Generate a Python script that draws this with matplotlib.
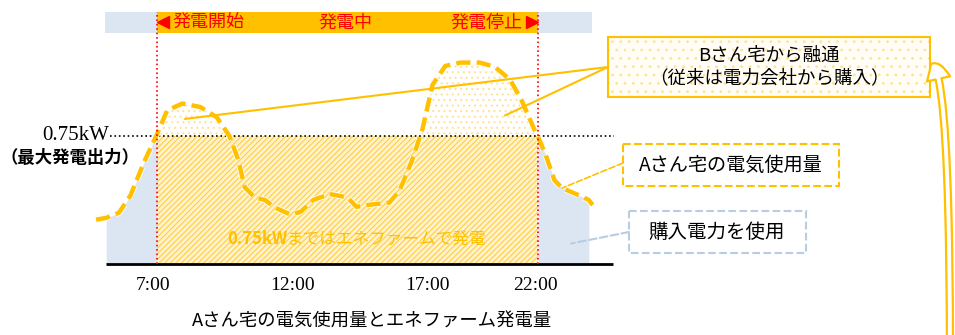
import numpy as np
import matplotlib.pyplot as plt
from matplotlib.patches import Rectangle
from matplotlib import patheffects as pe

plt.rcParams['font.family'] = ['Noto Sans CJK JP', 'DejaVu Sans']
plt.rcParams['hatch.linewidth'] = 0.8

# A-san household electricity usage (kW)
hours = np.array([4.6, 5.0, 5.5, 5.95, 6.5, 7.0, 7.4, 8.0, 8.7, 9.35, 9.85, 10.2, 10.45,
                  10.85, 11.25, 11.65, 12.25, 12.65, 13.15, 13.8, 14.5, 14.85, 15.25,
                  16.15, 16.55, 17.05, 17.45, 17.85, 18.35, 18.95, 19.7, 20.3, 20.9,
                  21.35, 21.85, 22.0, 22.3, 22.65, 22.95, 23.65, 24.0, 24.15])
usage = np.array([0.26, 0.27, 0.30, 0.40, 0.60, 0.76, 0.90, 0.94, 0.92, 0.86, 0.75, 0.61, 0.45,
                  0.39, 0.375, 0.33, 0.29, 0.305, 0.375, 0.41, 0.39, 0.335, 0.345,
                  0.36, 0.43, 0.61, 0.79, 1.05, 1.16, 1.18, 1.18, 1.155, 1.08,
                  0.96, 0.79, 0.745, 0.64, 0.49, 0.445, 0.40, 0.375, 0.345])

max_output = 0.75
gen_start, gen_end = 7, 22
buy_start, buy_end = 5.0, 24.0
tick_pos = [6.85, 12.35, 17.65, 21.9]
tick_labels = ['7:00', '12:00', '17:00', '22:00']

ORANGE = '#ffc000'
BLUE = '#dce6f2'
RED = '#ff0000'

fig = plt.figure(figsize=(9.55, 3.35), dpi=100)
ax = fig.add_axes([90 / 955, 71 / 335, 530 / 955, 264 / 335])
ax.set_xlim(7 + (90 - 157) / 25.4, 7 + (620 - 157) / 25.4)
ax.set_ylim(0, 264 / 170.7)
for s in ax.spines.values():
    s.set_visible(False)
ax.set_yticks([])
ax.set_xticks(tick_pos, tick_labels, family='Liberation Serif', fontsize=14)
ax.tick_params(axis='x', length=0, pad=9)

# purchased power (before/after generation)
left = (hours >= buy_start) & (hours <= gen_start)
right = (hours >= gen_end) & (hours <= buy_end)
ax.fill_between(hours[left], 0, usage[left], color=BLUE, lw=0)
ax.fill_between(hours[right], 0, usage[right], color=BLUE, lw=0)

# ENE-FARM generation up to 0.75kW
ax.fill_between([gen_start, gen_end], 0, max_output, facecolor='#fff2cc',
                edgecolor='#ffcf40', hatch='//////', lw=0)

# surplus from B-san above max output
on = (hours >= gen_start) & (hours <= gen_end)
ax.fill_between(hours, max_output, usage, where=on & (usage > max_output), interpolate=True,
                facecolor='white', edgecolor='#ffe39a', hatch='...', lw=0)

ax.hlines(0, 5.0, 24.95, color='black', lw=2, clip_on=False)
ax.hlines(max_output, 5.15, 24.98, color='black', lw=1.2, linestyles=':')

ax.plot(hours, usage, color=ORANGE, lw=3.2, dashes=(3.2, 1.4), solid_capstyle='butt',
        path_effects=[pe.Stroke(linewidth=4.4, foreground='white'), pe.Normal()])

t1 = ax.text(9.76, 0.146, '0.75kW', color=ORANGE, fontsize=12, fontweight='bold',
             ha='left', va='center')
ax.annotate('まではエネファームで発電', xy=(1, 0), xycoords=t1, color=ORANGE,
            fontsize=12, ha='left', va='bottom')

# top status bar
ax.axvspan(buy_start - 0.05, buy_end + 0.13, 0.875, 0.9545, color=BLUE, lw=0)
ax.axvspan(gen_start, gen_end, 0.875, 0.9545, color=ORANGE, lw=0)
for x in (gen_start, gen_end):
    ax.axvline(x, 0, 0.9545, color=RED, lw=1.2, ls=':')
ax.plot([gen_start + 0.25], [1.415], marker='<', color=RED, ms=9, clip_on=False)
ax.plot([gen_end - 0.25], [1.415], marker='>', color=RED, ms=9, clip_on=False)
ax.text(gen_start + 0.6, 1.415, '発電開始', color=RED, fontsize=13, va='center', ha='left')
ax.text(14.4, 1.415, '発電中', color=RED, fontsize=13, va='center', ha='center')
ax.text(gen_end - 0.6, 1.415, '発電停止', color=RED, fontsize=13, va='center', ha='right')

# overlay in pixel coordinates for callouts
ov = fig.add_axes([0, 0, 1, 1])
ov.set_xlim(0, 955)
ov.set_ylim(335, 0)
ov.axis('off')
ov.patch.set_alpha(0)

ov.text(109, 135, '0.75kW', family='Liberation Serif', fontsize=15, ha='right', va='center')
ov.text(70, 158, '（最大発電出力）', fontsize=12.5, fontweight='bold', ha='center', va='center')
ov.text(372, 322, 'Aさん宅の電気使用量とエネファーム発電量', fontsize=13.2, ha='center', va='center')

# B-san box
ov.add_patch(Rectangle((608, 37), 322, 60, facecolor='#fffdf5', edgecolor='#ffe39a',
                       hatch='..', lw=0))
ov.add_patch(Rectangle((608, 37), 322, 60, fill=False, edgecolor=ORANGE, lw=1.5))
ov.text(769, 67, 'Bさん宅から融通\n（従来は電力会社から購入）', fontsize=13.3,
        ha='center', va='center', linespacing=1.3)
for pt in [(8.1, 0.85), (20.7, 0.87)]:
    ax.annotate('', xy=pt, xytext=(608, 335 - 67), textcoords='figure pixels',
                arrowprops=dict(arrowstyle='-', color=ORANGE, lw=1.5, shrinkA=0, shrinkB=0))

# A-san usage box
ov.add_patch(Rectangle((623, 144), 216, 42, fill=False, edgecolor=ORANGE, lw=1.5, ls='--'))
ov.text(731, 165, 'Aさん宅の電気使用量', fontsize=13.8, ha='center', va='center')
ax.annotate('', xy=(22.95, 0.445), xytext=(623, 335 - 163), textcoords='figure pixels',
            arrowprops=dict(arrowstyle='-', color=ORANGE, lw=1.2, ls='--', shrinkA=0, shrinkB=0))

# purchased power box
ov.add_patch(Rectangle((629, 211), 177, 42, fill=False, edgecolor='#b8cce4', lw=1.5, ls='--'))
ov.text(717, 232, '購入電力を使用', fontsize=14, ha='center', va='center')
ax.annotate('', xy=(23.3, 0.12), xytext=(629, 335 - 232), textcoords='figure pixels',
            arrowprops=dict(arrowstyle='-', color='#b8cce4', lw=1.5, ls='--', shrinkA=0, shrinkB=0))

# return arrow on the right (hollow bent arrow)
ov.annotate('', xy=(931, 64), xytext=(950, 360),
            arrowprops=dict(arrowstyle='simple,head_length=0.6,head_width=0.85,tail_width=0.22',
                            mutation_scale=20, ec=ORANGE, fc='white', lw=1.6,
                            shrinkA=0, shrinkB=0,
                            connectionstyle='angle3,angleA=90,angleB=0'))

fig.savefig('out.png', dpi=100)
